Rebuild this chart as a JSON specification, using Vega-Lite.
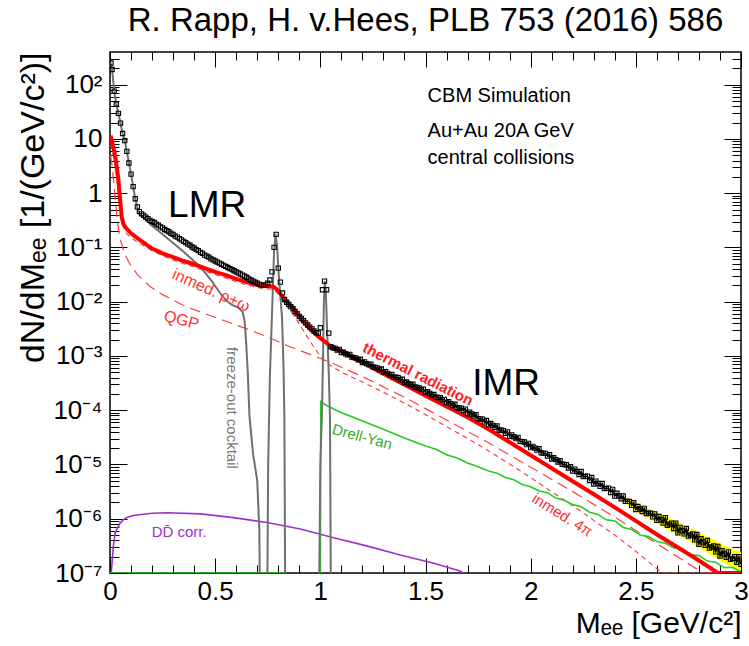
{
"$schema": "https://vega.github.io/schema/vega-lite/v6.json",
"width": 631, "height": 521,
"autosize": {"type": "none"},
"padding": {"left": 110, "top": 52, "right": 8, "bottom": 73},
"background": "white",
"config": {"view": {"stroke": "#000", "strokeWidth": 1.5}, "font": "Liberation Sans"},
"title": {"text": "R. Rapp, H. v.Hees, PLB 753 (2016) 586", "fontSize": 33, "font": "Liberation Sans", "fontWeight": "normal", "color": "#000", "anchor": "middle", "offset": -12, "baseline": "alphabetic"},
"datasets": {
"band": [{"x":2.45,"y":1.93e-6,"y2":2.54e-6},{"x":2.5,"y":1.38e-6,"y2":2.0e-6},{"x":2.55,"y":1.07e-6,"y2":1.62e-6},{"x":2.6,"y":8.32e-7,"y2":1.32e-6},{"x":2.65,"y":6.46e-7,"y2":1.07e-6},{"x":2.7,"y":5.01e-7,"y2":8.71e-7},{"x":2.75,"y":3.89e-7,"y2":7.08e-7},{"x":2.8,"y":2.95e-7,"y2":5.62e-7},{"x":2.85,"y":2.24e-7,"y2":4.47e-7},{"x":2.9,"y":1.7e-7,"y2":3.55e-7},{"x":2.95,"y":1.32e-7,"y2":2.88e-7},{"x":3.0,"y":1.05e-7,"y2":2.4e-7}],
"qgp": [{"x":0.003,"y":5.0},{"x":0.01,"y":3.16},{"x":0.02,"y":1.26},{"x":0.03,"y":0.5},{"x":0.04,"y":0.224},{"x":0.05,"y":0.135},{"x":0.07,"y":0.0759},{"x":0.095,"y":0.049},{"x":0.13,"y":0.0316},{"x":0.19,"y":0.0191},{"x":0.25,"y":0.0135},{"x":0.35,"y":0.00851},{"x":0.45,"y":0.00603},{"x":0.55,"y":0.00437},{"x":0.65,"y":0.00316},{"x":0.75,"y":0.00224},{"x":0.85,"y":0.00151},{"x":0.95,"y":0.00107},{"x":1.05,"y":7.59e-4},{"x":1.2,"y":4.17e-4},{"x":1.4,"y":1.74e-4},{"x":1.6,"y":6.61e-5},{"x":1.8,"y":2.51e-5},{"x":2.0,"y":8.91e-6},{"x":2.2,"y":3.16e-6},{"x":2.4,"y":1.07e-6},{"x":2.6,"y":3.47e-7},{"x":2.8,"y":1.12e-7},{"x":2.82,"y":1.0e-7},{"x":3.0,"y":1.0e-7}],
"inmed": [{"x":0.003,"y":7.9},{"x":0.01,"y":6.3},{"x":0.02,"y":4.0},{"x":0.03,"y":2.24},{"x":0.04,"y":1.0},{"x":0.05,"y":0.4},{"x":0.06,"y":0.251},{"x":0.08,"y":0.178},{"x":0.1,"y":0.151},{"x":0.13,"y":0.126},{"x":0.16,"y":0.107},{"x":0.2,"y":0.0871},{"x":0.25,"y":0.0708},{"x":0.3,"y":0.0589},{"x":0.35,"y":0.0501},{"x":0.4,"y":0.0437},{"x":0.45,"y":0.0372},{"x":0.5,"y":0.0316},{"x":0.55,"y":0.0275},{"x":0.6,"y":0.0234},{"x":0.65,"y":0.0204},{"x":0.7,"y":0.0182},{"x":0.74,"y":0.0174},{"x":0.775,"y":0.017},{"x":0.79,"y":0.0155},{"x":0.81,"y":0.0123},{"x":0.83,"y":0.00933},{"x":0.85,"y":0.00741},{"x":0.87,"y":0.00589},{"x":0.9,"y":0.00389},{"x":0.93,"y":0.00251},{"x":0.96,"y":0.00166},{"x":0.99,"y":0.00112},{"x":1.02,"y":8.32e-4},{"x":1.05,"y":6.61e-4},{"x":1.1,"y":5.01e-4},{"x":1.2,"y":3.31e-4},{"x":1.3,"y":2.14e-4},{"x":1.4,"y":1.35e-4},{"x":1.5,"y":8.32e-5},{"x":1.6,"y":5.01e-5},{"x":1.7,"y":3.02e-5},{"x":1.8,"y":1.78e-5},{"x":1.9,"y":1.02e-5},{"x":2.0,"y":5.75e-6},{"x":2.1,"y":3.16e-6},{"x":2.2,"y":1.74e-6},{"x":2.3,"y":9.33e-7},{"x":2.4,"y":5.01e-7},{"x":2.5,"y":2.51e-7},{"x":2.6,"y":1.2e-7},{"x":2.63,"y":1.0e-7},{"x":3.0,"y":1.0e-7}],
"dd": [{"x":0.006,"y":1.0e-7},{"x":0.016,"y":3.09e-7},{"x":0.024,"y":5.37e-7},{"x":0.032,"y":6.31e-7},{"x":0.048,"y":8.32e-7},{"x":0.063,"y":9.55e-7},{"x":0.08,"y":1.05e-6},{"x":0.11,"y":1.15e-6},{"x":0.2,"y":1.26e-6},{"x":0.27,"y":1.29e-6},{"x":0.43,"y":1.23e-6},{"x":0.587,"y":1.05e-6},{"x":0.746,"y":8.51e-7},{"x":0.905,"y":6.46e-7},{"x":1.063,"y":4.47e-7},{"x":1.22,"y":3.16e-7},{"x":1.38,"y":2.14e-7},{"x":1.54,"y":1.51e-7},{"x":1.66,"y":1.1e-7},{"x":1.68,"y":1.0e-7}],
"dy": [{"x":0.0,"y":1.0e-7},{"x":0.83,"y":1.0e-7},{"x":0.84,"y":1e-9},{"x":0.999,"y":1e-9},{"x":1.002,"y":1.45e-4},{"x":1.02,"y":1.29e-4},{"x":1.05,"y":1.12e-4},{"x":1.08,"y":9.77e-5},{"x":1.11,"y":8.71e-5},{"x":1.15,"y":7.59e-5},{"x":1.2,"y":6.31e-5},{"x":1.3,"y":4.47e-5},{"x":1.4,"y":3.09e-5},{"x":1.5,"y":2.19e-5},{"x":1.55,"y":1.91e-5},{"x":1.6,"y":1.51e-5},{"x":1.65,"y":1.32e-5},{"x":1.7,"y":1.07e-5},{"x":1.75,"y":9.12e-6},{"x":1.8,"y":7.59e-6},{"x":1.84,"y":6.92e-6},{"x":1.88,"y":5.75e-6},{"x":1.92,"y":5.25e-6},{"x":1.96,"y":4.27e-6},{"x":2.0,"y":3.89e-6},{"x":2.04,"y":3.24e-6},{"x":2.08,"y":3.02e-6},{"x":2.12,"y":2.4e-6},{"x":2.16,"y":2.19e-6},{"x":2.2,"y":1.82e-6},{"x":2.24,"y":1.66e-6},{"x":2.28,"y":1.32e-6},{"x":2.32,"y":1.2e-6},{"x":2.36,"y":9.55e-7},{"x":2.4,"y":9.12e-7},{"x":2.44,"y":6.92e-7},{"x":2.48,"y":6.31e-7},{"x":2.52,"y":5.01e-7},{"x":2.56,"y":4.68e-7},{"x":2.6,"y":3.8e-7},{"x":2.64,"y":3.55e-7},{"x":2.68,"y":2.88e-7},{"x":2.72,"y":2.82e-7},{"x":2.76,"y":2.19e-7},{"x":2.8,"y":2.09e-7},{"x":2.84,"y":1.66e-7},{"x":2.88,"y":1.58e-7},{"x":2.92,"y":1.26e-7},{"x":2.96,"y":1.26e-7},{"x":3.0,"y":1.05e-7}],
"cocktail": [{"x":0.003,"y":251},{"x":0.01,"y":190},{"x":0.02,"y":76},{"x":0.03,"y":44},{"x":0.04,"y":29.5},{"x":0.05,"y":19.5},{"x":0.06,"y":12.6},{"x":0.07,"y":9.3},{"x":0.08,"y":5.9},{"x":0.09,"y":3.6},{"x":0.1,"y":2.24},{"x":0.11,"y":1.32},{"x":0.12,"y":0.79},{"x":0.13,"y":0.537},{"x":0.14,"y":0.417},{"x":0.19,"y":0.269},{"x":0.27,"y":0.151},{"x":0.35,"y":0.0832},{"x":0.43,"y":0.0437},{"x":0.48,"y":0.0251},{"x":0.52,"y":0.0151},{"x":0.55,"y":0.0107},{"x":0.58,"y":0.00871},{"x":0.61,"y":0.00776},{"x":0.63,"y":0.00661},{"x":0.64,"y":0.00447},{"x":0.648,"y":0.00158},{"x":0.655,"y":5.01e-4},{"x":0.663,"y":7.94e-5},{"x":0.68,"y":1.58e-5},{"x":0.7,"y":5.01e-6},{"x":0.71,"y":6.3e-7},{"x":0.716,"y":1e-9},{"x":0.745,"y":1e-9},{"x":0.752,"y":1.0e-5},{"x":0.76,"y":3.98e-4},{"x":0.77,"y":5.62e-3},{"x":0.78,"y":0.0832},{"x":0.787,"y":0.178},{"x":0.795,"y":0.1},{"x":0.8,"y":0.0417},{"x":0.81,"y":0.0126},{"x":0.818,"y":5.01e-3},{"x":0.825,"y":6.31e-4},{"x":0.829,"y":7.94e-5},{"x":0.835,"y":1e-9},{"x":0.99,"y":1e-9},{"x":1.0,"y":1.0e-5},{"x":1.008,"y":1.0e-4},{"x":1.013,"y":1.0e-3},{"x":1.017,"y":0.01},{"x":1.021,"y":0.024},{"x":1.026,"y":0.0158},{"x":1.032,"y":3.16e-3},{"x":1.04,"y":5.01e-4},{"x":1.046,"y":6.9e-5},{"x":1.052,"y":1e-9}],
"thermal": [{"x":0.003,"y":11.5},{"x":0.01,"y":8.9},{"x":0.02,"y":6.0},{"x":0.03,"y":3.5},{"x":0.04,"y":1.78},{"x":0.05,"y":0.63},{"x":0.056,"y":0.355},{"x":0.065,"y":0.263},{"x":0.08,"y":0.219},{"x":0.1,"y":0.182},{"x":0.13,"y":0.148},{"x":0.16,"y":0.123},{"x":0.2,"y":0.0955},{"x":0.25,"y":0.0776},{"x":0.3,"y":0.0661},{"x":0.35,"y":0.0562},{"x":0.4,"y":0.049},{"x":0.45,"y":0.0417},{"x":0.5,"y":0.0355},{"x":0.55,"y":0.0309},{"x":0.6,"y":0.0263},{"x":0.65,"y":0.0229},{"x":0.7,"y":0.0204},{"x":0.74,"y":0.0195},{"x":0.775,"y":0.0191},{"x":0.79,"y":0.0174},{"x":0.81,"y":0.0141},{"x":0.83,"y":0.011},{"x":0.85,"y":0.00912},{"x":0.87,"y":0.00759},{"x":0.9,"y":0.00537},{"x":0.93,"y":0.00389},{"x":0.96,"y":0.00295},{"x":0.99,"y":0.00229},{"x":1.02,"y":0.00186},{"x":1.05,"y":0.00151},{"x":1.1,"y":0.00123},{"x":1.2,"y":7.59e-4},{"x":1.3,"y":4.68e-4},{"x":1.4,"y":2.95e-4},{"x":1.5,"y":1.86e-4},{"x":1.6,"y":1.17e-4},{"x":1.7,"y":7.41e-5},{"x":1.8,"y":4.47e-5},{"x":1.9,"y":2.57e-5},{"x":2.0,"y":1.48e-5},{"x":2.1,"y":8.51e-6},{"x":2.2,"y":4.9e-6},{"x":2.3,"y":2.82e-6},{"x":2.4,"y":1.62e-6},{"x":2.5,"y":9.12e-7},{"x":2.6,"y":5.13e-7},{"x":2.7,"y":2.95e-7},{"x":2.8,"y":1.7e-7},{"x":2.89,"y":1.0e-7},{"x":3.0,"y":1.0e-7}],
"data": [{"x":0.005,"y":251},{"x":0.01,"y":190},{"x":0.02,"y":76},{"x":0.03,"y":44},{"x":0.04,"y":29.5},{"x":0.05,"y":19.5},{"x":0.06,"y":12.6},{"x":0.07,"y":9.3},{"x":0.08,"y":5.9},{"x":0.09,"y":3.6},{"x":0.1,"y":2.24},{"x":0.11,"y":1.32},{"x":0.12,"y":0.79},{"x":0.13,"y":0.56},{"x":0.14,"y":0.457},{"x":0.15,"y":0.417},{"x":0.16,"y":0.389},{"x":0.17,"y":0.363},{"x":0.18,"y":0.339},{"x":0.19,"y":0.316},{"x":0.2,"y":0.302},{"x":0.21,"y":0.288},{"x":0.22,"y":0.269},{"x":0.23,"y":0.257},{"x":0.24,"y":0.24},{"x":0.25,"y":0.229},{"x":0.26,"y":0.214},{"x":0.27,"y":0.204},{"x":0.28,"y":0.195},{"x":0.29,"y":0.182},{"x":0.3,"y":0.174},{"x":0.31,"y":0.162},{"x":0.32,"y":0.155},{"x":0.33,"y":0.145},{"x":0.34,"y":0.138},{"x":0.35,"y":0.129},{"x":0.36,"y":0.123},{"x":0.37,"y":0.115},{"x":0.38,"y":0.11},{"x":0.39,"y":0.102},{"x":0.4,"y":0.0977},{"x":0.41,"y":0.0912},{"x":0.42,"y":0.0871},{"x":0.43,"y":0.0813},{"x":0.44,"y":0.0776},{"x":0.45,"y":0.0724},{"x":0.46,"y":0.0692},{"x":0.47,"y":0.0661},{"x":0.48,"y":0.0617},{"x":0.49,"y":0.0589},{"x":0.5,"y":0.0562},{"x":0.51,"y":0.0537},{"x":0.52,"y":0.0513},{"x":0.53,"y":0.049},{"x":0.54,"y":0.0468},{"x":0.55,"y":0.0447},{"x":0.56,"y":0.0427},{"x":0.57,"y":0.0407},{"x":0.58,"y":0.0389},{"x":0.59,"y":0.0372},{"x":0.6,"y":0.0355},{"x":0.61,"y":0.0339},{"x":0.62,"y":0.0324},{"x":0.63,"y":0.0309},{"x":0.64,"y":0.0295},{"x":0.65,"y":0.0282},{"x":0.66,"y":0.0263},{"x":0.67,"y":0.0251},{"x":0.68,"y":0.024},{"x":0.69,"y":0.0229},{"x":0.7,"y":0.0219},{"x":0.71,"y":0.0209},{"x":0.72,"y":0.0204},{"x":0.73,"y":0.02},{"x":0.74,"y":0.0204},{"x":0.75,"y":0.0219},{"x":0.76,"y":0.0251},{"x":0.77,"y":0.0355},{"x":0.78,"y":0.1},{"x":0.79,"y":0.174},{"x":0.8,"y":0.0417},{"x":0.81,"y":0.0229},{"x":0.82,"y":0.0145},{"x":0.83,"y":0.011},{"x":0.84,"y":0.00977},{"x":0.85,"y":0.00891},{"x":0.86,"y":0.00813},{"x":0.87,"y":0.00741},{"x":0.88,"y":0.00661},{"x":0.89,"y":0.00603},{"x":0.9,"y":0.00537},{"x":0.91,"y":0.0049},{"x":0.92,"y":0.00447},{"x":0.93,"y":0.00407},{"x":0.94,"y":0.00372},{"x":0.95,"y":0.00339},{"x":0.96,"y":0.00316},{"x":0.97,"y":0.00288},{"x":0.98,"y":0.00269},{"x":0.99,"y":0.00263},{"x":1.0,"y":0.00331},{"x":1.01,"y":0.0166},{"x":1.02,"y":0.024},{"x":1.03,"y":0.0166},{"x":1.04,"y":0.00263},{"x":1.05,"y":0.00148},
{"x":1.06,"y":1.41e-3},{"x":1.07,"y":1.38e-3},{"x":1.08,"y":1.29e-3},{"x":1.09,"y":1.32e-3},{"x":1.1,"y":1.15e-3},{"x":1.11,"y":1.17e-3},{"x":1.12,"y":1.1e-3},{"x":1.13,"y":1.05e-3},{"x":1.14,"y":1.07e-3},{"x":1.15,"y":9.55e-4},{"x":1.16,"y":9.33e-4},{"x":1.17,"y":9.12e-4},{"x":1.18,"y":8.51e-4},{"x":1.19,"y":8.71e-4},{"x":1.2,"y":7.59e-4},{"x":1.21,"y":7.76e-4},{"x":1.22,"y":7.24e-4},{"x":1.23,"y":6.92e-4},{"x":1.24,"y":7.08e-4},{"x":1.25,"y":6.31e-4},{"x":1.26,"y":6.17e-4},{"x":1.27,"y":6.03e-4},{"x":1.28,"y":5.62e-4},{"x":1.29,"y":5.75e-4},{"x":1.3,"y":5.01e-4},{"x":1.31,"y":5.13e-4},{"x":1.32,"y":4.79e-4},{"x":1.33,"y":4.47e-4},{"x":1.34,"y":4.57e-4},{"x":1.35,"y":4.07e-4},{"x":1.36,"y":4.07e-4},{"x":1.37,"y":3.98e-4},{"x":1.38,"y":3.63e-4},{"x":1.39,"y":3.72e-4},{"x":1.4,"y":3.24e-4},{"x":1.41,"y":3.31e-4},{"x":1.42,"y":3.09e-4},{"x":1.43,"y":2.95e-4},{"x":1.44,"y":3.02e-4},{"x":1.45,"y":2.69e-4},{"x":1.46,"y":2.63e-4},{"x":1.47,"y":2.57e-4},{"x":1.48,"y":2.4e-4},{"x":1.49,"y":2.45e-4},{"x":1.5,"y":2.14e-4},{"x":1.51,"y":2.19e-4},{"x":1.52,"y":2.04e-4},{"x":1.53,"y":1.91e-4},{"x":1.54,"y":1.95e-4},{"x":1.55,"y":1.74e-4},{"x":1.56,"y":1.72e-4},{"x":1.57,"y":1.7e-4},{"x":1.58,"y":1.55e-4},{"x":1.59,"y":1.58e-4},{"x":1.6,"y":1.38e-4},{"x":1.61,"y":1.43e-4},{"x":1.62,"y":1.32e-4},{"x":1.63,"y":1.22e-4},{"x":1.64,"y":1.29e-4},{"x":1.65,"y":1.11e-4},{"x":1.66,"y":1.1e-4},{"x":1.67,"y":1.09e-4},{"x":1.68,"y":9.89e-5},{"x":1.69,"y":1.05e-4},{"x":1.7,"y":8.71e-5},{"x":1.71,"y":9.23e-5},{"x":1.72,"y":8.51e-5},{"x":1.73,"y":7.85e-5},{"x":1.74,"y":8.32e-5},{"x":1.75,"y":7.0e-5},{"x":1.76,"y":6.92e-5},{"x":1.77,"y":6.84e-5},{"x":1.78,"y":6.1e-5},{"x":1.79,"y":6.46e-5},{"x":1.8,"y":5.37e-5},{"x":1.81,"y":5.69e-5},{"x":1.82,"y":5.25e-5},{"x":1.83,"y":4.84e-5},{"x":1.84,"y":5.13e-5},{"x":1.85,"y":4.32e-5},{"x":1.86,"y":4.27e-5},{"x":1.87,"y":4.22e-5},{"x":1.88,"y":3.76e-5},{"x":1.89,"y":3.98e-5},{"x":1.9,"y":3.31e-5},{"x":1.91,"y":3.51e-5},{"x":1.92,"y":3.24e-5},{"x":1.93,"y":2.99e-5},{"x":1.94,"y":3.16e-5},{"x":1.95,"y":2.66e-5},{"x":1.96,"y":2.63e-5},{"x":1.97,"y":2.6e-5},{"x":1.98,"y":2.32e-5},{"x":1.99,"y":2.45e-5},{"x":2.0,"y":2.04e-5},{"x":2.01,"y":2.16e-5},{"x":2.02,"y":2.0e-5},{"x":2.03,"y":1.84e-5},{"x":2.04,"y":1.95e-5},{"x":2.05,"y":1.64e-5},{"x":2.06,"y":1.62e-5},{"x":2.07,"y":1.6e-5},{"x":2.08,"y":1.43e-5},{"x":2.09,"y":1.51e-5},{"x":2.1,"y":1.26e-5},{"x":2.11,"y":1.33e-5},{"x":2.12,"y":1.23e-5},{"x":2.13,"y":1.11e-5},{"x":2.14,"y":1.17e-5},{"x":2.15,"y":1.01e-5},{"x":2.16,"y":1.0e-5},{"x":2.17,"y":9.89e-6},{"x":2.18,"y":8.61e-6},{"x":2.19,"y":9.12e-6},{"x":2.2,"y":7.59e-6},{"x":2.21,"y":8.22e-6},{"x":2.22,"y":7.41e-6},{"x":2.23,"y":6.53e-6},{"x":2.24,"y":7.41e-6},{"x":2.25,"y":5.96e-6},{"x":2.26,"y":6.03e-6},{"x":2.27,"y":6.1e-6},{"x":2.28,"y":5.07e-6},{"x":2.29,"y":5.75e-6},{"x":2.3,"y":4.37e-6},{"x":2.31,"y":4.95e-6},{"x":2.32,"y":4.47e-6},{"x":2.33,"y":3.94e-6},{"x":2.34,"y":4.47e-6},{"x":2.35,"y":3.59e-6},{"x":2.36,"y":3.63e-6},{"x":2.37,"y":3.67e-6},{"x":2.38,"y":3.05e-6},{"x":2.39,"y":3.47e-6},{"x":2.4,"y":2.63e-6},{"x":2.41,"y":2.95e-6},{"x":2.42,"y":2.63e-6},{"x":2.43,"y":2.34e-6},{"x":2.44,"y":2.63e-6},{"x":2.45,"y":2.09e-6},{"x":2.46,"y":2.09e-6},{"x":2.47,"y":2.09e-6},{"x":2.48,"y":1.76e-6},{"x":2.49,"y":1.97e-6},{"x":2.5,"y":1.48e-6},{"x":2.51,"y":1.68e-6},{"x":2.52,"y":1.51e-6},{"x":2.53,"y":1.36e-6},{"x":2.54,"y":1.55e-6},{"x":2.55,"y":1.24e-6},{"x":2.56,"y":1.26e-6},{"x":2.57,"y":1.27e-6},{"x":2.58,"y":1.08e-6},{"x":2.59,"y":1.23e-6},{"x":2.6,"y":9.33e-7},{"x":2.61,"y":1.1e-6},{"x":2.62,"y":9.55e-7},{"x":2.63,"y":8.32e-7},{"x":2.64,"y":1.05e-6},{"x":2.65,"y":7.59e-7},{"x":2.66,"y":7.94e-7},{"x":2.67,"y":8.32e-7},{"x":2.68,"y":6.61e-7},{"x":2.69,"y":8.32e-7},{"x":2.7,"y":5.5e-7},{"x":2.71,"y":6.92e-7},{"x":2.72,"y":6.03e-7},{"x":2.73,"y":5.25e-7},{"x":2.74,"y":6.61e-7},{"x":2.75,"y":4.79e-7},{"x":2.76,"y":5.01e-7},{"x":2.77,"y":5.25e-7},{"x":2.78,"y":4.07e-7},{"x":2.79,"y":5.13e-7},{"x":2.8,"y":3.39e-7},{"x":2.81,"y":4.27e-7},{"x":2.82,"y":3.72e-7},{"x":2.83,"y":3.24e-7},{"x":2.84,"y":3.98e-7},{"x":2.85,"y":2.88e-7},{"x":2.86,"y":3.02e-7},{"x":2.87,"y":3.16e-7},{"x":2.88,"y":2.45e-7},{"x":2.89,"y":3.09e-7},{"x":2.9,"y":2.04e-7},{"x":2.91,"y":2.57e-7},{"x":2.92,"y":2.24e-7},{"x":2.93,"y":1.95e-7},{"x":2.94,"y":2.45e-7},{"x":2.95,"y":1.78e-7},{"x":2.96,"y":1.86e-7},{"x":2.97,"y":2.0e-7},{"x":2.98,"y":1.58e-7},{"x":2.99,"y":2.0e-7},{"x":3.0,"y":1.45e-7}],
"bigtext": [{"x":0.276,"y":0.36,"t":"LMR"},{"x":1.722,"y":1.9e-4,"t":"IMR"}],
"info": [{"x":1.51,"y":47.2,"t":"CBM Simulation"},{"x":1.51,"y":10.7,"t":"Au+Au 20A GeV"},{"x":1.51,"y":3.4,"t":"central collisions"}],
"lab_rho": [{"x":0.481,"y":0.0162,"t":"inmed. ρ+ω"}],
"lab_qgp": [{"x":0.34,"y":0.00457,"t":"QGP"}],
"lab_fo": [{"x":0.581,"y":1.1e-4,"t":"freeze-out cocktail"}],
"lab_th": [{"x":1.464,"y":4.62e-4,"t":"thermal radiation"}],
"lab_dy": [{"x":1.199,"y":3.24e-5,"t":"Drell-Yan"}],
"lab_4pi": [{"x":2.151,"y":1.17e-6,"t":"inmed. 4π"}],
"lab_dd": [{"x":0.329,"y":5.69e-7,"t":"DD̄ corr."}]
},
"encoding": {
 "x": {"field": "x", "type": "quantitative", "scale": {"domain": [0, 3], "nice": false, "zero": false}, "axis": null},
 "y": {"field": "y", "type": "quantitative", "scale": {"type": "log", "domain": [1e-7, 400], "nice": false}, "axis": null}
},
"resolve": {"axis": {"x": "independent", "y": "independent"}},
"layer": [
 {"data": {"name": "band"}, "mark": {"type": "area", "color": "#ffff00", "clip": true},
  "encoding": {
   "x": {"field": "x", "type": "quantitative", "scale": {"domain": [0, 3], "nice": false, "zero": false},
     "axis": {"orient": "bottom", "values": [0, 0.5, 1, 1.5, 2, 2.5, 3], "format": "~g", "ticks": false, "domain": false, "grid": false, "labelFontSize": 26, "labelFont": "Liberation Sans", "labelColor": "#000", "labelPadding": 5, "labelFlush": false, "labelOverlap": false,
       "title": "Mₑₑ [GeV/c²]", "titleFontSize": 30, "titleFont": "Liberation Sans", "titleFontWeight": "normal", "titleColor": "#000", "titleX": 631, "titleY": 59, "titleAlign": "right", "titleBaseline": "alphabetic", "titleAngle": 0}},
   "y": {"field": "y", "type": "quantitative", "scale": {"type": "log", "domain": [1e-7, 400], "nice": false},
     "axis": {"orient": "left", "values": [1e-7, 1e-6, 1e-5, 1e-4, 1e-3, 1e-2, 1e-1, 1, 10, 100], "ticks": false, "domain": false, "grid": false, "labelFontSize": 26, "labelFont": "Liberation Sans", "labelColor": "#000", "labelPadding": 8, "labelFlush": false, "labelOverlap": false,
       "labelExpr": "datum.value < 3e-7 ? '10⁻⁷' : datum.value < 3e-6 ? '10⁻⁶' : datum.value < 3e-5 ? '10⁻⁵' : datum.value < 3e-4 ? '10⁻⁴' : datum.value < 3e-3 ? '10⁻³' : datum.value < 3e-2 ? '10⁻²' : datum.value < 0.3 ? '10⁻¹' : datum.value < 3 ? '1' : datum.value < 30 ? '10' : '10²'",
       "title": "dN/dMₑₑ [1/(GeV/c²)]", "titleFontSize": 34, "titleFont": "Liberation Sans", "titleFontWeight": "normal", "titleColor": "#000", "titleX": -67, "titleY": 0, "titleAlign": "right", "titleBaseline": "alphabetic", "titleAngle": -90}},
   "y2": {"field": "y2"}
  }},
 {"data": {"name": "qgp"}, "mark": {"type": "line", "color": "#ff4040", "strokeWidth": 1.2, "strokeDash": [11, 6], "clip": true},
  "encoding": {
   "x": {"field": "x", "type": "quantitative", "axis": {"orient": "bottom", "values": [0, 0.5, 1, 1.5, 2, 2.5, 3], "tickSize": -15, "tickColor": "#000", "tickWidth": 1, "labels": false, "domain": false, "grid": false, "title": null}},
   "y": {"field": "y", "type": "quantitative", "axis": {"orient": "left", "values": [1e-7, 1e-6, 1e-5, 1e-4, 1e-3, 1e-2, 1e-1, 1, 10, 100], "tickSize": -17, "tickColor": "#000", "tickWidth": 1, "labels": false, "domain": false, "grid": false, "title": null}}
  }},
 {"data": {"name": "inmed"}, "mark": {"type": "line", "color": "#ff4040", "strokeWidth": 1.2, "strokeDash": [5, 4], "clip": true},
  "encoding": {
   "x": {"field": "x", "type": "quantitative", "axis": {"orient": "bottom", "values": [0.1, 0.2, 0.3, 0.4, 0.6, 0.7, 0.8, 0.9, 1.1, 1.2, 1.3, 1.4, 1.6, 1.7, 1.8, 1.9, 2.1, 2.2, 2.3, 2.4, 2.6, 2.7, 2.8, 2.9], "tickSize": -8, "tickColor": "#000", "tickWidth": 1, "labels": false, "domain": false, "grid": false, "title": null}},
   "y": {"field": "y", "type": "quantitative", "axis": {"orient": "left", "values": [2e-7,3e-7,4e-7,5e-7,6e-7,7e-7,8e-7,9e-7,2e-6,3e-6,4e-6,5e-6,6e-6,7e-6,8e-6,9e-6,2e-5,3e-5,4e-5,5e-5,6e-5,7e-5,8e-5,9e-5,2e-4,3e-4,4e-4,5e-4,6e-4,7e-4,8e-4,9e-4,2e-3,3e-3,4e-3,5e-3,6e-3,7e-3,8e-3,9e-3,0.02,0.03,0.04,0.05,0.06,0.07,0.08,0.09,0.2,0.3,0.4,0.5,0.6,0.7,0.8,0.9,2,3,4,5,6,7,8,9,20,30,40,50,60,70,80,90,200,300], "tickSize": -9, "tickColor": "#000", "tickWidth": 1, "labels": false, "domain": false, "grid": false, "title": null}}
  }},
 {"data": {"name": "dd"}, "mark": {"type": "line", "color": "#9933cc", "strokeWidth": 1.6, "clip": true},
  "encoding": {
   "x": {"field": "x", "type": "quantitative", "axis": {"orient": "top", "values": [0, 0.5, 1, 1.5, 2, 2.5, 3], "tickSize": -15, "tickColor": "#000", "tickWidth": 1, "labels": false, "domain": false, "grid": false, "title": null}},
   "y": {"field": "y", "type": "quantitative", "axis": {"orient": "right", "values": [1e-7, 1e-6, 1e-5, 1e-4, 1e-3, 1e-2, 1e-1, 1, 10, 100], "tickSize": -17, "tickColor": "#000", "tickWidth": 1, "labels": false, "domain": false, "grid": false, "title": null}}
  }},
 {"data": {"name": "dy"}, "mark": {"type": "line", "color": "#22cc22", "strokeWidth": 1.6, "clip": true},
  "encoding": {
   "x": {"field": "x", "type": "quantitative", "axis": {"orient": "top", "values": [0.1, 0.2, 0.3, 0.4, 0.6, 0.7, 0.8, 0.9, 1.1, 1.2, 1.3, 1.4, 1.6, 1.7, 1.8, 1.9, 2.1, 2.2, 2.3, 2.4, 2.6, 2.7, 2.8, 2.9], "tickSize": -8, "tickColor": "#000", "tickWidth": 1, "labels": false, "domain": false, "grid": false, "title": null}},
   "y": {"field": "y", "type": "quantitative", "axis": {"orient": "right", "values": [2e-7,3e-7,4e-7,5e-7,6e-7,7e-7,8e-7,9e-7,2e-6,3e-6,4e-6,5e-6,6e-6,7e-6,8e-6,9e-6,2e-5,3e-5,4e-5,5e-5,6e-5,7e-5,8e-5,9e-5,2e-4,3e-4,4e-4,5e-4,6e-4,7e-4,8e-4,9e-4,2e-3,3e-3,4e-3,5e-3,6e-3,7e-3,8e-3,9e-3,0.02,0.03,0.04,0.05,0.06,0.07,0.08,0.09,0.2,0.3,0.4,0.5,0.6,0.7,0.8,0.9,2,3,4,5,6,7,8,9,20,30,40,50,60,70,80,90,200,300], "tickSize": -9, "tickColor": "#000", "tickWidth": 1, "labels": false, "domain": false, "grid": false, "title": null}}
  }},
 {"data": {"name": "cocktail"}, "mark": {"type": "line", "color": "#707070", "strokeWidth": 2, "clip": true}},
 {"data": {"name": "thermal"}, "mark": {"type": "line", "color": "#ff0000", "strokeWidth": 4, "clip": true}},
 {"data": {"name": "data"}, "transform": [{"filter": "datum.x >= 1.05"}], "mark": {"type": "line", "color": "#000", "strokeWidth": 1.5, "clip": true}},
 {"data": {"name": "data"}, "mark": {"type": "point", "shape": "square", "filled": false, "size": 18, "strokeWidth": 1.1, "color": "#000", "opacity": 1, "clip": true}},
 {"data": {"name": "bigtext"}, "mark": {"type": "text", "fontSize": 37, "font": "Liberation Sans", "align": "left", "baseline": "alphabetic", "color": "#000"}, "encoding": {"text": {"field": "t"}}},
 {"data": {"name": "info"}, "mark": {"type": "text", "fontSize": 20, "font": "Liberation Sans", "align": "left", "baseline": "alphabetic", "color": "#000"}, "encoding": {"text": {"field": "t"}}},
 {"data": {"name": "lab_rho"}, "mark": {"type": "text", "fontSize": 16, "font": "Liberation Sans", "align": "center", "baseline": "middle", "angle": 24, "color": "#ff3030"}, "encoding": {"text": {"field": "t"}}},
 {"data": {"name": "lab_qgp"}, "mark": {"type": "text", "fontSize": 16, "font": "Liberation Sans", "align": "center", "baseline": "middle", "angle": 15, "color": "#ff3030"}, "encoding": {"text": {"field": "t"}}},
 {"data": {"name": "lab_fo"}, "mark": {"type": "text", "fontSize": 15, "font": "Liberation Sans", "align": "center", "baseline": "middle", "angle": 90, "color": "#777777"}, "encoding": {"text": {"field": "t"}}},
 {"data": {"name": "lab_th"}, "mark": {"type": "text", "fontSize": 15, "font": "Liberation Sans", "fontWeight": "bold", "align": "center", "baseline": "middle", "angle": 27, "color": "#ff2020"}, "encoding": {"text": {"field": "t"}}},
 {"data": {"name": "lab_dy"}, "mark": {"type": "text", "fontSize": 15, "font": "Liberation Sans", "align": "center", "baseline": "middle", "angle": 15, "color": "#3aa82a"}, "encoding": {"text": {"field": "t"}}},
 {"data": {"name": "lab_4pi"}, "mark": {"type": "text", "fontSize": 15, "font": "Liberation Sans", "align": "center", "baseline": "middle", "angle": 32, "color": "#ff3030"}, "encoding": {"text": {"field": "t"}}},
 {"data": {"name": "lab_dd"}, "mark": {"type": "text", "fontSize": 15, "font": "Liberation Sans", "align": "center", "baseline": "middle", "angle": 0, "color": "#9933cc"}, "encoding": {"text": {"field": "t"}}}
]
}
